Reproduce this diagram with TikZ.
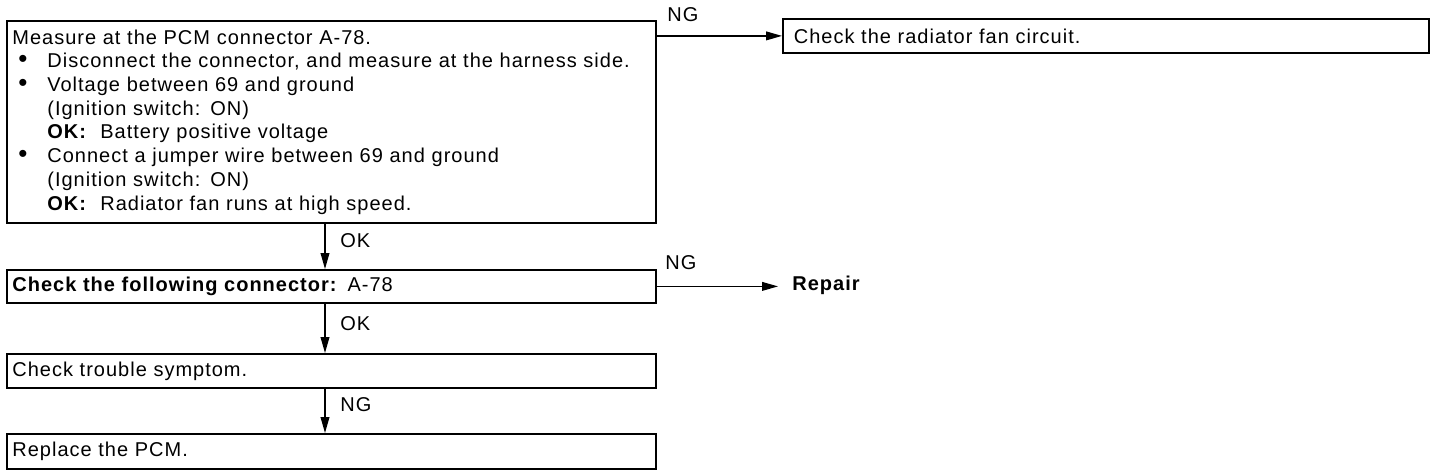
\documentclass[tikz,border=0pt]{standalone}
\usepackage{fontspec}
\setmainfont{Liberation Sans}[LetterSpace=5,WordSpace=2.1]
\usetikzlibrary{arrows.meta}

\newcommand{\dotitem}{\makebox[17.5pt][l]{\hspace{3pt}{\fontsize{13}{11.85}\selectfont\textbullet}}}
\newcommand{\okindent}{\hspace*{17.5pt}}

\tikzset{
	stepbox/.style={draw, rectangle, anchor=north west, line width=0.9pt,
		minimum width=324.5pt, inner xsep=2.5pt, text width=319pt, align=left},
	tag/.style={anchor=west, inner sep=0pt},
	flow/.style={-{Triangle[length=8pt,width=4.4pt]}, line width=0.65pt}
}

\begin{document}
\begin{tikzpicture}[x=0.5pt, y=-0.5pt, font=\fontsize{10}{11.85}\selectfont]
	\useasboundingbox (0,0) rectangle (1440,476);
			\coordinate (spine) at (325,0);
			\node	(measure) at (6,20) [stepbox, minimum height=101pt] {
				Measure at the PCM connector A-78.\\
				\dotitem Disconnect the connector, and measure at the harness side.\\
				\dotitem Voltage between 69 and ground\\
				\okindent (Ignition switch: ON)\\
				\okindent \textbf{OK:}\ \ Battery positive voltage\\
				\dotitem Connect a jumper wire between 69 and ground\\
				\okindent (Ignition switch: ON)\\
				\okindent \textbf{OK:}\ \ Radiator fan runs at high speed.};
			\node	(fan) at (782,18) [stepbox, minimum width=323pt, inner xsep=5.5pt, text width=312pt, minimum height=17pt] {Check the radiator fan circuit.};
			\node	(conn) at (6,269) [stepbox, minimum height=16.5pt] {\textbf{Check the following connector:} A-78};
			\node	(symptom) at (6,353) [stepbox, minimum height=17pt] {Check trouble symptom.};
			\node	(pcm) at (6,433) [stepbox, minimum height=17.5pt] {Replace the PCM.};
			\node	(repair) at (792,285) [tag] {\textbf{Repair}};
			
				\node   (ng1) at (667,15) [tag] {NG};
				\node   (ok1) at (340,241) [tag] {OK};
				\node   (ng2) at (665,263) [tag] {NG};
				\node   (ok2) at (340,324) [tag] {OK};
				\node   (ng3) at (340,405) [tag] {NG};
			
			\draw 
			(measure.east |- fan.west) edge[flow] (fan.west)
			(measure.south -| spine) edge[flow] (conn.north -| spine)
			(conn.east) edge[flow] ([xshift=-7pt]repair.west |- conn.east)
			(conn.south -| spine) edge[flow] (symptom.north -| spine)
			(symptom.south -| spine) edge[flow] (pcm.north -| spine)
			;
\end{tikzpicture}
\end{document}
